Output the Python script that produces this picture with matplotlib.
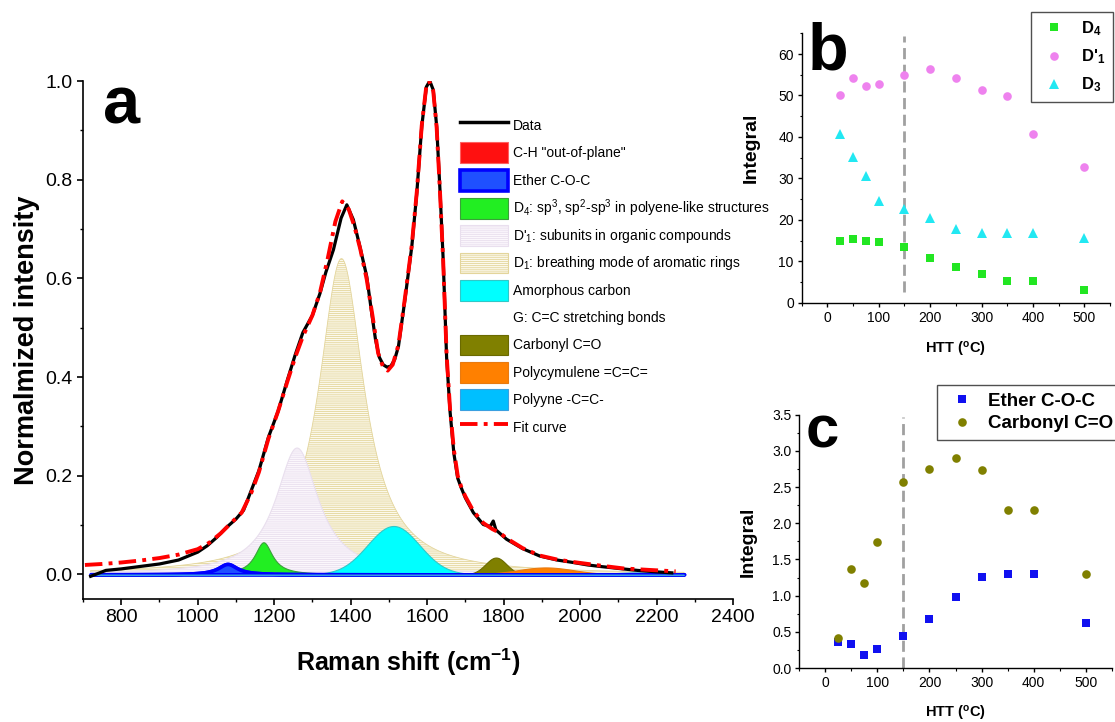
import numpy as np
import matplotlib
matplotlib.use('Agg')
import matplotlib.pyplot as plt
from matplotlib.patches import Patch
from matplotlib.lines import Line2D
from matplotlib.ticker import MultipleLocator

plt.rcParams['font.family'] = ['Liberation Sans', 'DejaVu Sans']
plt.rcParams['mathtext.fontset'] = 'custom'
plt.rcParams['mathtext.rm'] = 'Liberation Sans'
plt.rcParams['mathtext.it'] = 'Liberation Sans:italic'
plt.rcParams['mathtext.bf'] = 'Liberation Sans:bold'
plt.rcParams['hatch.linewidth'] = 0.6

# ---------------- Panel a : Raman spectrum ----------------
data_x = [720, 740, 760, 800, 850, 900, 950, 1000, 1025, 1050, 1075, 1100, 1120,
          1140, 1160, 1185, 1210, 1235, 1255, 1275, 1300, 1320, 1335, 1355, 1375,
          1390, 1407, 1424, 1442, 1455, 1465, 1475, 1485, 1495, 1505, 1515, 1525,
          1542, 1560, 1573, 1586, 1598, 1607, 1616, 1625, 1634, 1642, 1651, 1660,
          1670, 1680, 1690, 1700, 1721, 1747, 1765, 1773, 1780, 1808, 1850, 1895,
          1940, 1982, 2020, 2052, 2100, 2150, 2200, 2240]
data_y = [-0.004, 0.002, 0.008, 0.011, 0.016, 0.021, 0.029, 0.045, 0.058, 0.075,
          0.095, 0.112, 0.130, 0.170, 0.210, 0.278, 0.330, 0.395, 0.445, 0.490,
          0.525, 0.570, 0.612, 0.658, 0.722, 0.749, 0.719, 0.665, 0.604, 0.530,
          0.476, 0.440, 0.425, 0.420, 0.422, 0.435, 0.462, 0.557, 0.665, 0.773,
          0.908, 0.988, 1.000, 0.982, 0.908, 0.773, 0.638, 0.439, 0.330, 0.245,
          0.195, 0.174, 0.155, 0.125, 0.101, 0.097, 0.108, 0.090, 0.071, 0.052,
          0.037, 0.029, 0.024, 0.019, 0.016, 0.012, 0.008, 0.005, 0.003]

fit_x = [705, 750, 800, 850, 900, 950, 1000, 1030, 1060, 1090, 1115, 1140, 1160,
         1185, 1210, 1235, 1255, 1275, 1300, 1320, 1340, 1360, 1378, 1395, 1410,
         1425, 1442, 1458, 1472, 1485, 1497, 1510, 1525, 1542, 1560, 1573, 1586,
         1598, 1605, 1616, 1625, 1634, 1642, 1651, 1660, 1670, 1680, 1690, 1700,
         1721, 1747, 1770, 1790, 1810, 1850, 1895, 1940, 1982, 2050, 2113, 2180,
         2250]
fit_y = [0.019, 0.021, 0.024, 0.028, 0.033, 0.040, 0.051, 0.064, 0.083, 0.106,
         0.125, 0.165, 0.207, 0.275, 0.330, 0.392, 0.440, 0.482, 0.525, 0.572,
         0.640, 0.715, 0.756, 0.740, 0.705, 0.660, 0.598, 0.520, 0.448, 0.420,
         0.413, 0.425, 0.465, 0.560, 0.668, 0.775, 0.910, 0.990, 1.000, 0.980,
         0.905, 0.770, 0.635, 0.445, 0.335, 0.252, 0.200, 0.175, 0.158, 0.128,
         0.104, 0.092, 0.084, 0.072, 0.053, 0.038, 0.030, 0.025, 0.018, 0.012,
         0.009, 0.006]

spectral_range = (720, 2272)

comp_labels = ['C-H "out-of-plane"', 'Ether C-O-C',
               r'D$_{4}$: sp$^{3}$, sp$^{2}$-sp$^{3}$ in polyene-like structures',
               r"D'$_{1}$: subunits in organic compounds",
               r'D$_{1}$: breathing mode of aromatic rings',
               'Amorphous carbon', 'G: C=C stretching bonds', 'Carbonyl C=O',
               'Polycymulene =C=C=', 'Polyyne -C=C-']
comp_centers = [1200, 1078, 1172, 1260, 1376, 1512, 1603, 1780, 1910, 2150]
comp_heights = [0.003, 0.021, 0.065, 0.256, 0.640, 0.098, 0.870, 0.034, 0.014, 0.004]
comp_hwhm = [15, 30, 28, 68, 72, 80, 40, 32, 85, 70]
comp_shapes = ['G', 'L', 'L', 'L', 'L', 'G', 'L', 'G', 'G', 'G']

# ---------------- Panels b, c ----------------
htt = [25, 50, 75, 100, 150, 200, 250, 300, 350, 400, 500]
d4 = [15.0, 15.3, 14.9, 14.7, 13.5, 10.7, 8.7, 6.9, 5.2, 5.2, 3.0]
d1p = [50.1, 54.3, 52.4, 52.8, 54.9, 56.5, 54.1, 51.4, 49.9, 40.7, 32.8]
d3 = [40.6, 35.2, 30.6, 24.5, 22.6, 20.4, 17.8, 16.7, 16.8, 16.8, 15.7]
ether = [0.355, 0.33, 0.175, 0.267, 0.442, 0.672, 0.976, 1.261, 1.294, 1.294, 0.626]
carbonyl = [0.41, 1.372, 1.18, 1.736, 2.574, 2.753, 2.896, 2.735, 2.18, 2.18, 1.30]
htt_threshold = 150


def peak(x, c, h, hw, shape):
    if shape == 'L':
        return h / (1.0 + ((x - c) / hw) ** 2)
    return h * np.exp(-np.log(2) * ((x - c) / hw) ** 2)


W, H = 1115, 722
fig = plt.figure(figsize=(W / 100, H / 100), dpi=100)

def fr(l, t, r, b):
    return [l / W, 1 - b / H, (r - l) / W, (b - t) / H]

ax = fig.add_axes(fr(83, 81, 733, 599))
axb = fig.add_axes(fr(801.7, 33.3, 1110, 302.7))
axc = fig.add_axes(fr(799.3, 414.7, 1111.7, 668))

# component styles: face, edge, lw, hatch
styles = [
    dict(facecolor='#ff1010', edgecolor='#ff6060', lw=0.8, hatch=None),
    dict(facecolor='#1f50ff', edgecolor='#0000ff', lw=2.6, hatch=None),
    dict(facecolor='#22ee22', edgecolor='#3aa03a', lw=0.8, hatch=None),
    dict(facecolor='#fbf7fc', edgecolor='#e9dfee', lw=0.8, hatch='--------'),
    dict(facecolor='#fcf9ec', edgecolor='#e3d59b', lw=0.6, hatch='--------'),
    dict(facecolor='#00ffff', edgecolor='#30c8c8', lw=0.8, hatch=None),
    dict(facecolor='none', edgecolor='none', lw=0, hatch=None),
    dict(facecolor='#808000', edgecolor='#6a6a00', lw=0.8, hatch=None),
    dict(facecolor='#ff8000', edgecolor='#e87a10', lw=0.8, hatch=None),
    dict(facecolor='#00bfff', edgecolor='#3aa0e0', lw=0.8, hatch=None),
]

xs = np.linspace(spectral_range[0], spectral_range[1], 1200)
draw_order = [4, 3, 6, 5, 2, 1, 0, 7, 8, 9]
for z, i in enumerate(draw_order):
    st = styles[i]
    if st['facecolor'] == 'none':
        continue
    ys = peak(xs, comp_centers[i], comp_heights[i], comp_hwhm[i], comp_shapes[i])
    ax.fill_between(xs, 0, ys, facecolor=st['facecolor'], edgecolor=st['edgecolor'],
                    linewidth=st['lw'], hatch=st['hatch'], zorder=2 + z * 0.01)
# the ether component's thick outline runs along the baseline
ys_e = peak(xs, comp_centers[1], comp_heights[1], comp_hwhm[1], comp_shapes[1])
ax.fill_between(xs, 0, ys_e, facecolor='#1f50ff', edgecolor='#0000ff', linewidth=2.6,
                zorder=2.5)
ax.plot(xs, np.zeros_like(xs) - 0.002, color='#3aa0e0', lw=1.2, zorder=2.6,
        solid_capstyle='round')

ax.plot(data_x, data_y, color='black', lw=2.3, zorder=4, solid_joinstyle='round')
fit_line, = ax.plot(fit_x, fit_y, color='#ff0000', lw=2.8, zorder=5)
fit_line.set_dashes([4.5, 1.6, 1.0, 1.6])

ax.set_xlim(700, 2400)
ax.set_ylim(-0.05, 1.0)
ax.set_xticks([800, 1000, 1200, 1400, 1600, 1800, 2000, 2200, 2400])
ax.xaxis.set_minor_locator(MultipleLocator(100))
ax.set_yticks([0.0, 0.2, 0.4, 0.6, 0.8, 1.0])
ax.set_yticklabels(['0.0', '0.2', '0.4', '0.6', '0.8', '1.0'])
ax.yaxis.set_minor_locator(MultipleLocator(0.1))
for s in ['top', 'right']:
    ax.spines[s].set_visible(False)
for s in ['left', 'bottom']:
    ax.spines[s].set_linewidth(1.2)
ax.tick_params(which='major', direction='out', length=4.5, width=1.2, labelsize=14, pad=3)
ax.tick_params(which='minor', direction='out', length=2.5, width=1.0)
ax.set_xlabel(r'Raman shift (cm$\mathbf{^{-1}}$)', fontsize=18, fontweight='bold')
ax.set_ylabel('Normalmized intensity', fontsize=19.5, fontweight='bold')
ax.xaxis.set_label_coords(0.5, -0.092)
ax.yaxis.set_label_coords(-0.066, 0.5)

handles = [Line2D([], [], color='black', lw=2.5)]
for i in range(len(comp_labels)):
    st = styles[i]
    if st['facecolor'] == 'none':
        handles.append(Patch(facecolor='none', edgecolor='none'))
    else:
        handles.append(Patch(facecolor=st['facecolor'], edgecolor=st['edgecolor'],
                             linewidth=max(st['lw'], 0.8), hatch=st['hatch']))
fit_h = Line2D([], [], color='#ff0000', lw=2.8)
fit_h.set_dashes([4.5, 1.6, 1.0, 1.6])
handles.append(fit_h)
labels = ['Data'] + comp_labels + ['Fit curve']
leg = ax.legend(handles, labels, loc='upper left', bbox_to_anchor=(460 / W, 1 - 115 / H),
                bbox_transform=fig.transFigure, frameon=False, fontsize=10,
                handlelength=3.45, handleheight=1.93, labelspacing=0.47,
                handletextpad=0.34, borderpad=0, borderaxespad=0)
leg.set_zorder(10)

fig.text(103 / W, 1 - 123 / H, 'a', fontsize=48, fontweight='bold', va='baseline')

# ---------------- Panel b ----------------
mk = dict(linestyle='none')
axb.plot(htt, d4, marker='s', color='#22e622', markersize=5.8, mew=0, label=r'D$_{\mathbf{4}}$', **mk)
axb.plot(htt, d1p, marker='o', color='#ee82ee', markersize=6.2, mew=0, label=r"D'$_{\mathbf{1}}$", **mk)
axb.plot(htt, d3, marker='^', color='#22e8f2', markersize=6.8, mew=0, label=r'D$_{\mathbf{3}}$', **mk)
axb.axvline(htt_threshold, ymin=0.04, ymax=0.99, color='#a0a0a0', lw=2, ls=(0, (4, 2)), zorder=1)
axb.set_xlim(-50, 550)
axb.set_ylim(0, 65)
axb.set_xticks([0, 100, 200, 300, 400, 500])
axb.xaxis.set_minor_locator(MultipleLocator(50))
axb.set_yticks([0, 10, 20, 30, 40, 50, 60])
axb.yaxis.set_minor_locator(MultipleLocator(5))
axb.set_ylabel('Integral', fontsize=14, fontweight='bold')
axb.yaxis.set_label_coords(-0.135, 0.576)
axb.set_xlabel(r'HTT ($\mathbf{^{o}}$C)', fontsize=10.5, fontweight='bold')
axb.xaxis.set_label_coords(0.5, -0.139)
lb = axb.legend(loc='upper right', bbox_to_anchor=(1113 / W, 1 - 11.7 / H),
                bbox_transform=fig.transFigure, fancybox=False, edgecolor='#505050',
                framealpha=1, prop=dict(size=12, weight='bold'), handlelength=1.87,
                handletextpad=0.72, labelspacing=0.57, borderpad=0.45, borderaxespad=0)
lb.get_frame().set_linewidth(1.0)
fig.text(808 / W, 1 - 70 / H, 'b', fontsize=48, fontweight='bold', va='baseline')

# ---------------- Panel c ----------------
axc.plot(htt, ether, marker='s', color='#1010f0', markersize=5.8, mew=0, label='Ether C-O-C', **mk)
axc.plot(htt, carbonyl, marker='o', color='#808000', markersize=6.2, mew=0, label='Carbonyl C=O', **mk)
axc.axvline(htt_threshold, ymin=0.0, ymax=0.99, color='#a0a0a0', lw=2, ls=(0, (4, 2)), zorder=1)
axc.set_xlim(-50, 550)
axc.set_ylim(0, 3.5)
axc.set_xticks([0, 100, 200, 300, 400, 500])
axc.xaxis.set_minor_locator(MultipleLocator(50))
axc.set_yticks([0.0, 0.5, 1.0, 1.5, 2.0, 2.5, 3.0, 3.5])
axc.set_yticklabels(['0.0', '0.5', '1.0', '1.5', '2.0', '2.5', '3.0', '3.5'])
axc.yaxis.set_minor_locator(MultipleLocator(0.25))
axc.set_ylabel('Integral', fontsize=14, fontweight='bold')
axc.yaxis.set_label_coords(-0.135, 0.5)
axc.set_xlabel(r'HTT ($\mathbf{^{o}}$C)', fontsize=10.5, fontweight='bold')
axc.xaxis.set_label_coords(0.5, -0.142)
lc = axc.legend(loc='upper left', bbox_to_anchor=(937.3 / W, 1 - 385 / H),
                bbox_transform=fig.transFigure, fancybox=False, edgecolor='#505050',
                framealpha=1, prop=dict(size=13.5, weight='bold'), handlelength=1.8,
                handletextpad=0.52, labelspacing=0.3, borderpad=0.4, borderaxespad=0)
lc.get_frame().set_linewidth(1.0)
fig.text(806 / W, 1 - 448 / H, 'c', fontsize=43, fontweight='bold', va='baseline')

for a in (axb, axc):
    for s in ['top', 'right']:
        a.spines[s].set_visible(False)
    for s in ['left', 'bottom']:
        a.spines[s].set_linewidth(1.0)
    a.tick_params(which='major', direction='out', length=3.2, width=1.0, labelsize=10, pad=2.5)
    a.tick_params(which='minor', direction='out', length=1.8, width=0.8)

fig.savefig('out.png', dpi=100)
